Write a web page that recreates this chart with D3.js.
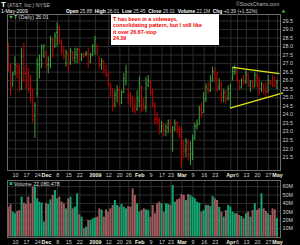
<!DOCTYPE html>
<html>
<head>
<meta charset="utf-8">
<script src="https://cdn.jsdelivr.net/npm/d3@7"></script>
<style>
  body { margin: 0; background: #000; }
  svg { display: block; font-family: "Liberation Sans", Arial, sans-serif; }
</style>
</head>
<body>
<svg id="chart" width="300" height="245"></svg>
<script>
// trading calendar: Nov 5 2008 .. May 1 2009, NYSE holidays skipped
var firstDay = new Date(2008, 10, 5), lastDay = new Date(2009, 4, 1);
var holidays = ['2008-11-27', '2008-12-25', '2009-01-01', '2009-01-19', '2009-02-16', '2009-04-10'];

var openP = [
  28.0,26.8,25.8,26.5,26.8,26.6,25.5,27.6,26.4,26.0,
  25.5,25.0,23.9,25.2,26.9,26.8,28.0,27.6,26.9,26.9,
  28.3,28.0,28.8,29.0,28.2,27.7,27.0,27.5,27.0,27.6,
  27.3,27.5,27.8,27.3,27.4,27.5,27.6,27.1,27.5,28.0,
  28.0,27.3,26.9,27.0,26.6,26.3,25.8,25.5,24.6,25.2,
  25.4,24.7,25.3,25.9,25.5,25.1,24.9,24.4,24.3,24.8,
  25.6,24.6,24.4,25.7,25.9,25.3,24.6,23.7,23.6,23.0,
  23.2,23.0,23.2,23.5,23.0,23.1,23.5,23.1,22.8,21.9,
  21.9,22.3,21.6,21.7,22.6,23.3,23.4,24.3,24.1,24.9,
  25.5,25.4,26.0,26.4,26.1,25.6,25.8,25.0,25.2,24.9,
  25.2,26.0,26.5,26.5,26.0,25.6,26.1,25.9,26.3,25.7,
  25.9,25.6,26.2,25.6,25.5,25.7,25.4,25.3,25.9,25.8,
  25.7,25.88];
var highP = [
  28.2,27.0,26.5,27.4,27.0,26.9,27.9,28.2,26.9,26.7,
  26.3,25.5,24.7,27.3,27.5,28.1,28.1,27.7,27.4,28.6,
  28.5,28.8,29.4,29.2,28.4,28.0,27.8,27.7,27.9,27.7,
  27.9,27.9,27.9,27.6,27.6,27.7,27.9,27.6,28.1,28.6,
  28.1,27.4,27.3,27.2,26.9,26.5,25.8,25.5,25.4,25.7,
  25.6,25.4,26.4,26.9,25.5,25.3,25.1,24.9,25.4,26.2,
  25.7,25.0,26.2,26.3,26.0,25.5,24.7,24.1,23.8,23.6,
  23.5,23.4,23.7,23.7,23.3,23.7,23.6,23.3,23.3,22.5,
  22.6,22.5,22.4,22.8,23.5,23.7,24.5,24.7,25.3,25.8,
  25.9,26.3,26.8,26.7,26.5,26.1,25.9,25.5,25.4,25.7,
  25.8,26.8,26.9,26.6,26.0,26.1,26.3,26.6,26.4,26.0,
  26.0,26.5,26.4,26.2,25.9,25.8,25.9,26.3,26.0,26.3,
  26.2,26.01];
var lowP = [
  26.5,25.1,25.6,26.3,26.1,25.3,25.4,25.9,25.5,25.25,
  24.7,23.5,22.6,25.0,26.1,26.7,27.3,26.7,26.4,26.7,
  27.3,27.9,28.0,28.1,27.5,27.2,26.8,26.5,26.9,27.1,
  27.0,27.0,27.0,27.1,27.3,27.4,26.7,27.0,27.4,27.5,
  27.5,26.7,26.6,26.4,26.2,25.6,25.0,24.2,24.4,24.7,
  24.5,24.6,25.25,25.7,24.6,24.4,24.1,24.0,24.2,24.4,
  24.1,24.2,24.1,25.6,25.1,24.4,23.4,23.4,22.8,22.9,
  22.7,22.7,22.9,22.9,21.8,23.0,22.9,22.6,20.9,21.4,
  21.5,21.3,21.0,21.3,22.5,23.1,23.4,23.8,24.1,24.7,
  25.2,25.3,25.9,25.9,25.3,25.4,24.7,24.7,24.6,24.8,
  24.4,26.0,26.3,25.9,25.4,25.5,25.7,25.8,25.6,25.3,
  25.5,25.6,25.6,25.1,25.3,25.2,25.0,25.3,25.7,25.6,
  25.6,25.45];
var closeP = [
  26.9,25.6,26.3,26.9,26.4,25.6,27.4,26.4,25.9,25.5,
  24.9,23.7,24.5,26.9,27.2,27.9,28.05,26.8,27.2,28.4,
  27.8,28.6,29.1,28.3,27.8,27.4,27.6,26.9,27.7,27.3,
  27.6,27.8,27.2,27.5,27.45,27.6,27.0,27.5,28.0,28.4,
  27.8,26.9,27.1,26.6,26.3,25.8,25.6,24.5,25.1,25.4,
  24.6,25.3,26.1,26.5,25.0,24.9,24.3,24.2,24.9,25.8,
  24.5,24.4,25.8,26.0,25.3,24.6,23.7,23.5,23.0,23.3,
  23.1,23.3,23.6,23.0,23.2,23.5,23.1,22.9,21.9,21.8,
  22.4,21.6,21.7,22.5,23.3,23.4,24.3,24.1,24.9,25.6,
  25.4,26.1,26.5,26.1,25.5,25.7,25.0,25.3,24.9,25.5,
  25.7,26.5,26.6,26.1,25.6,26.0,25.9,26.4,25.8,25.9,
  25.6,26.3,25.7,25.5,25.8,25.4,25.3,26.0,25.8,25.7,
  25.62,26.01];
// volume in millions of shares
var volume = [
  35.5,38.3,29.6,27.6,30.4,31.5,47.4,40.3,38.7,47.4,
  39.5,59.3,59.3,45.4,41.5,40.3,17.7,39.5,38.7,44.2,
  49.4,55.4,45.4,47.4,41.5,39.5,33.5,45.4,47.4,33.5,
  35.5,51.4,26.4,23.6,9.7,11.7,19.7,19.7,21.6,22.8,
  23.6,33.5,32.0,23.6,32.3,29.6,33.5,37.5,43.5,37.5,
  35.5,38.7,35.5,33.5,36.3,35.5,57.3,49.4,39.5,29.6,
  31.5,33.5,32.3,31.5,23.6,37.5,27.6,39.5,41.5,39.5,
  29.6,39.5,38.7,37.5,61.3,41.5,44.2,45.4,50.6,49.4,
  43.5,50.6,49.4,47.4,45.4,41.5,40.3,29.6,31.5,37.5,
  37.5,36.3,48.2,45.4,43.5,35.5,29.6,23.6,31.5,37.5,
  35.5,29.6,27.6,27.6,25.6,24.4,21.6,27.6,29.6,23.6,
  31.5,39.5,31.5,33.5,51.4,33.5,30.5,27.6,25.6,33.5,
  32.3,22.08];

var tickDays = ['2008-11-10','2008-11-17','2008-11-24','2008-12-01','2008-12-08','2008-12-15','2008-12-22',
  '2009-01-02','2009-01-12','2009-01-20','2009-01-26','2009-02-02','2009-02-09','2009-02-17','2009-02-23',
  '2009-03-02','2009-03-09','2009-03-16','2009-03-23','2009-04-01','2009-04-06','2009-04-13','2009-04-20',
  '2009-04-27','2009-05-01'];
var tickLabels = ['10','17','24','Dec','8','15','22','2009','12','20','26','Feb','9','17','23',
  'Mar','9','16','23','Apr','6','13','20','27','May'];
var priceTicks = [21.5,22.0,22.5,23.0,23.5,24.0,24.5,25.0,25.5,26.0,26.5,27.0,27.5,28.0,28.5,29.0,29.5];
var volTicks = [10, 20, 30, 40, 50, 60];

// triangle lines, [day index, price]
var trendTop = [[101, 26.75], [122.1, 26.38]];
var trendBottom = [[99.8, 24.35], [123.8, 25.25]];

var note = ['T has been in a sideways,', 'consolidating pattern, but I still like', 'it over 26.67-stop', '24.39'];

// header quote: label, value
var quote = [['Open', '25.88'], ['High', '26.01'], ['Low', '25.45'], ['Close', '26.01'],
  ['Volume', '22.1M'], ['Chg', '+0.39 (+1.52%)']];

var fmt = d3.timeFormat('%Y-%m-%d');
var days = d3.timeDay.range(firstDay, d3.timeDay.offset(lastDay, 1))
  .filter(d => d.getDay() % 6 != 0 && holidays.indexOf(fmt(d)) < 0)
  .map(fmt);

var data = days.map((d, i) => ({
  i: i, date: d, o: openP[i], h: highP[i], l: lowP[i], c: closeP[i], v: volume[i],
  up: i == 0 ? closeP[i] >= openP[i] : closeP[i] >= closeP[i - 1]
}));

var left = 7, right = 280,
    pTop = 14, pBot = 170,
    vTop = 180, vBot = 237;

var x = d3.scaleLinear().domain([0, days.length - 1]).range([8.3, 277]);
var y = d3.scaleLinear().domain([21.5, 29.5]).range([156.8, 20.5]);
var yv = d3.scaleLinear().domain([0, 60]).range([236.5, 186.1]);
var tickIdx = tickDays.map(d => days.indexOf(d));

var upPrice = '#3da23d', downPrice = '#c80000';
var upVol = '#15a371', downVol = '#9d5b5c';
var gridCol = '#2c2c2c', frameCol = '#6a6a6a', labelCol = '#cfcfcf';

var svg = d3.select('#chart');
svg.append('rect').attr('width', 300).attr('height', 245).attr('fill', '#000');

// gridlines
var grid = function(g) {
  g.select('.domain').remove();
  g.selectAll('line').attr('stroke', gridCol).attr('stroke-width', 1);
};
svg.append('g').attr('transform', 'translate(' + left + ',0)')
  .call(d3.axisLeft(y).tickValues(priceTicks).tickSize(-(right - left)).tickFormat(''))
  .call(grid);
svg.append('g').attr('transform', 'translate(0,' + pBot + ')')
  .call(d3.axisBottom(x).tickValues(tickIdx).tickSize(-(pBot - pTop)).tickFormat(''))
  .call(grid);
svg.append('g').attr('transform', 'translate(' + left + ',0)')
  .call(d3.axisLeft(yv).tickValues(volTicks).tickSize(-(right - left)).tickFormat(''))
  .call(grid);
svg.append('g').attr('transform', 'translate(0,' + vBot + ')')
  .call(d3.axisBottom(x).tickValues(tickIdx).tickSize(-(vBot - vTop)).tickFormat(''))
  .call(grid);

// price bars (OHLC)
var bars = svg.append('g').selectAll('g').data(data).join('g')
  .attr('stroke', d => d.up ? upPrice : downPrice)
  .attr('stroke-width', 1);
bars.append('line')
  .attr('x1', d => x(d.i)).attr('x2', d => x(d.i))
  .attr('y1', d => y(d.h)).attr('y2', d => y(d.l));
bars.append('line')
  .attr('x1', d => x(d.i) - 1).attr('x2', d => x(d.i))
  .attr('y1', d => y(d.o)).attr('y2', d => y(d.o));
bars.append('line')
  .attr('x1', d => x(d.i)).attr('x2', d => x(d.i) + 1)
  .attr('y1', d => y(d.c)).attr('y2', d => y(d.c));

// volume bars
svg.append('g').selectAll('rect').data(data).join('rect')
  .attr('x', d => x(d.i) - 1)
  .attr('width', 2)
  .attr('y', d => yv(d.v))
  .attr('height', d => yv(0) - yv(d.v))
  .attr('fill', d => d.up ? upVol : downVol);

// triangle
var tline = d3.line().x(d => x(d[0])).y(d => y(d[1]));
[trendTop, trendBottom].forEach(t => {
  svg.append('path').attr('d', tline(t))
    .attr('fill', 'none').attr('stroke', '#e6e617').attr('stroke-width', 1.3);
});

// panel frames
[[pTop, pBot], [vTop, vBot]].forEach(p => {
  svg.append('rect').attr('x', left + 0.5).attr('y', p[0] + 0.5)
    .attr('width', right - left).attr('height', p[1] - p[0])
    .attr('fill', 'none').attr('stroke', frameCol).attr('stroke-width', 1);
});

// axes labels
var styleAxis = function(g) {
  g.select('.domain').remove();
  g.selectAll('text').attr('fill', labelCol).style('font-size', '5.4px');
};
svg.append('g').attr('transform', 'translate(' + (right + 1) + ',0)')
  .call(d3.axisRight(y).tickValues(priceTicks).tickSize(0).tickPadding(1.5).tickFormat(d3.format('.1f')))
  .call(styleAxis);
svg.append('g').attr('transform', 'translate(' + (right + 1) + ',0)')
  .call(d3.axisRight(yv).tickValues(volTicks).tickSize(0).tickPadding(1.5).tickFormat(d => d + 'M'))
  .call(styleAxis);
[pBot, vBot].forEach(b => {
  svg.append('g').attr('transform', 'translate(0,' + (b + 1) + ')')
    .call(d3.axisBottom(x).tickValues(tickIdx).tickSize(0).tickPadding(2).tickFormat((d, i) => tickLabels[i]))
    .call(styleAxis)
    .call(g => g.selectAll('text')
      .attr('font-weight', (d, i) => /^\d{1,2}$/.test(tickLabels[i]) ? null : 'bold')
      .attr('fill', (d, i) => /^\d{1,2}$/.test(tickLabels[i]) ? labelCol : '#f2efd8'));
});

// header
var head = svg.append('text').attr('x', 1).attr('y', 7).attr('fill', '#fff');
head.append('tspan').text('T').attr('font-weight', 'bold').style('font-size', '8px');
head.append('tspan').text(' (AT&T, Inc.) NYSE').attr('fill', '#bdbdbd').style('font-size', '5.2px');
svg.append('text').attr('x', 1).attr('y', 12.6).attr('fill', '#fff').style('font-size', '5px').text('1-May-2009');
svg.append('text').attr('x', 236).attr('y', 6).attr('fill', '#bdbdbd').style('font-size', '5.2px').text('\u00a9StockCharts.com');

var qt = svg.append('text').attr('x', 66).attr('y', 12.6).style('font-size', '4.9px');
quote.forEach((q, k) => {
  qt.append('tspan').text((k ? '  ' : '') + q[0] + ' ').attr('fill', '#fff').attr('font-weight', 'bold')
    .style('white-space', 'pre');
  qt.append('tspan').text(q[1]).attr('fill', '#d8d8d8');
});
svg.append('path').attr('d', 'M281.5,12.5 L283.5,9.5 L285.5,12.5 Z').attr('fill', '#3cc03c');

// panel captions
svg.append('path').attr('d', 'M9,15.8 L13,15.8 L11,19 Z').attr('fill', '#3cc03c');
svg.append('text').attr('x', 14).attr('y', 19.2).attr('fill', '#d8d8d8').style('font-size', '5.3px').text('T (Daily) 26.01');
svg.append('rect').attr('x', 9.5).attr('y', 182).attr('width', 3).attr('height', 3).attr('fill', '#15a371');
svg.append('text').attr('x', 14).attr('y', 185.5).attr('fill', '#d8d8d8').style('font-size', '5.3px').text('Volume 22,080,478');

// annotation box
svg.append('rect').attr('x', 111).attr('y', 14).attr('width', 108).attr('height', 31).attr('fill', '#fff');
svg.append('g').selectAll('text').data(note).join('text')
  .attr('x', 113).attr('y', (d, i) => 20.5 + i * 6.6)
  .attr('fill', '#f00000').attr('font-weight', 'bold')
  .style('font-size', '5.3px')
  .text(d => d);
</script>
</body>
</html>
